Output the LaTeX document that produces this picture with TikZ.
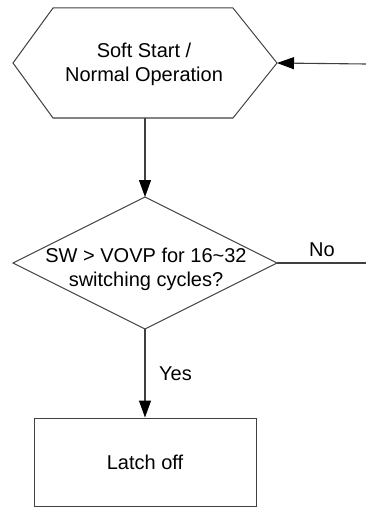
\documentclass[tikz,border=0pt]{standalone}
\usepackage{fontspec}
\setmainfont{Liberation Sans}
\usetikzlibrary{arrows.meta}
\definecolor{ln}{HTML}{404040}
\begin{document}
\begin{tikzpicture}[x=1pt,y=-1pt,
  shapeline/.style={draw=ln,line width=1pt},
  conn/.style={draw=ln,line width=1.1pt},
  arr/.style={conn,-{Triangle[length=17pt,width=12pt,fill=black,color=black]}},
  txt/.style={font=\fontsize{20}{24}\selectfont,align=center,inner sep=0pt,text=black},
  lbl/.style={font=\fontsize{20}{24}\selectfont,inner sep=0pt,text=black}]
\useasboundingbox (0,0) rectangle (366,508);
% hexagon
\coordinate (hexL) at (13,63);
\coordinate (hexR) at (277,63);
\coordinate (hexB) at (145,118);
\draw[shapeline] (hexL) -- (53,8) -- (233,8) -- (hexR) -- (233,118) -- (53,118) -- cycle;
\node[txt] (hextext) at (144,64) {Soft Start /\\Normal Operation};
% diamond
\coordinate (diaT) at (145,197);
\coordinate (diaL) at (13,263);
\coordinate (diaR) at (277,263);
\coordinate (diaB) at (145,329);
\draw[shapeline] (diaT) -- (diaR) -- (diaB) -- (diaL) -- cycle;
\node[txt] (diatext) at (146,269) {SW > VOVP for 16\textasciitilde32\\switching cycles?};
% rectangle
\node[shapeline,rectangle,minimum width=222pt,minimum height=88pt,inner sep=0pt,
  font=\fontsize{20}{24}\selectfont] (latch) at (145,462) {Latch off};
% connectors
\coordinate (inR) at (366,64);
\coordinate (noEnd) at (366,263);
\draw[arr] (inR) -- (hexR);
\draw[arr] (hexB) -- (diaT);
\draw[conn] (diaR) -- (noEnd);
\draw[arr] (diaB) -- (latch.north);
\node[lbl,anchor=base west] (no) at (309,256) {No};
\node[lbl,anchor=base west] (yes) at (159,380) {Yes};
\end{tikzpicture}
\end{document}
